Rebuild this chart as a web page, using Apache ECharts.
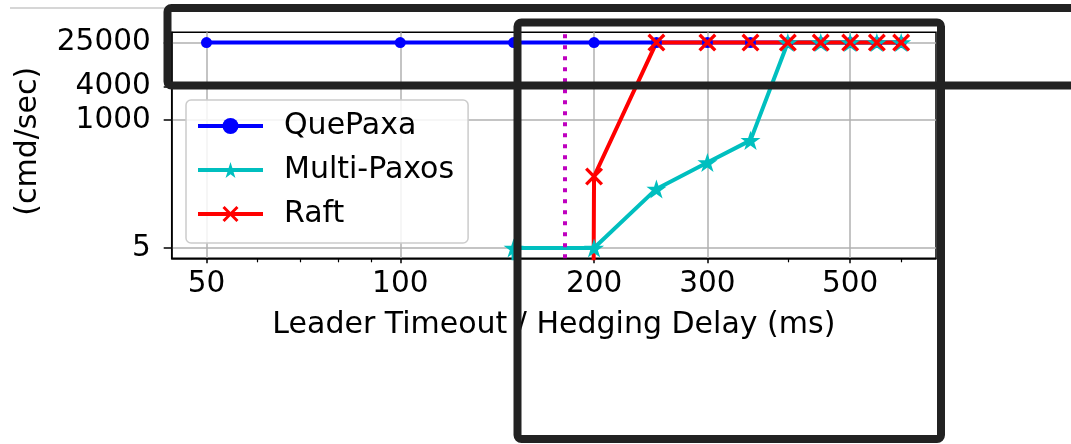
<!DOCTYPE html>
<html>
<head>
<meta charset="utf-8">
<script src="https://cdn.jsdelivr.net/npm/echarts@6/dist/echarts.min.js"></script>
<style>
body { margin: 0; background: #fff; }
#myChart { width: 1071px; height: 444px; }
</style>
</head>
<body>
<div id="myChart"></div>
<script>
// leader timeout / hedging delay (ms)
var delays = [50, 100, 150, 200, 250, 300, 350, 400, 450, 500, 550, 600];
// throughput (cmd/sec), 0 = nothing committed
var quePaxa = [25000, 25000, 25000, 25000, 25000, 25000, 25000, 25000, 25000, 25000, 25000, 25000];
var multiPaxos = [0, 0, 5, 5, 58, 174, 434, 25000, 25000, 25000, 25000, 25000];
var raft = [0, 0, 0, 97, 25000, 25000, 25000, 25000, 25000, 25000, 25000, 25000];

var xTicks = [50, 100, 200, 300, 500];
var xMinorTicks = [60, 70, 80, 90, 400, 600];
var yTicks = [5, 1000, 4000, 25000];
var hedgeDelay = 180;

var FONT = 'DejaVu Sans';

// matplotlib puts 0 far below a log axis, the line drops out of the plot
function toPoints(values) {
  return delays.map(function (d, i) {
    return [d, values[i] > 0 ? values[i] : 1e-300];
  });
}

var starPath = 'path://M50,0 L61.23,34.55 L97.55,34.55 L68.17,55.9 L79.39,90.45 L50,69.1 L20.61,90.45 L31.83,55.9 L2.45,34.55 L38.77,34.55 Z';
var crossPath = 'path://M0,1.3 L1.3,0 L5,3.7 L8.7,0 L10,1.3 L6.3,5 L10,8.7 L8.7,10 L5,6.3 L1.3,10 L0,8.7 L3.7,5 Z';

var chart = echarts.init(document.getElementById('myChart'));

chart.setOption({
  animation: false,
  backgroundColor: '#fff',
  textStyle: { fontFamily: FONT },
  grid: {
    left: 171.7,
    right: 135,
    top: 32.3,
    bottom: 185.7,
    show: true,
    borderColor: '#000',
    borderWidth: 1.5,
    outerBoundsMode: 'none'
  },
  legend: {
    orient: 'vertical',
    left: 186,
    top: 100,
    padding: [11, 14, 14, 10],
    itemGap: 14,
    itemWidth: 65,
    itemHeight: 20,
    backgroundColor: 'rgba(255,255,255,0.85)',
    borderColor: '#cccccc',
    borderWidth: 1.5,
    borderRadius: 5,
    lineStyle: { width: 4 },
    textStyle: { fontSize: 30, color: '#000', fontFamily: FONT, padding: [0, 0, 0, 16] },
    data: ['QuePaxa', 'Multi-Paxos', 'Raft']
  },
  xAxis: [{
    type: 'log',
    logBase: 10,
    min: 44.15,
    max: 679.6,
    name: 'Leader Timeout / Hedging Delay (ms)',
    nameLocation: 'middle',
    nameGap: 52,
    nameTextStyle: { fontSize: 30, color: '#000', fontFamily: FONT },
    axisLine: { lineStyle: { color: '#000', width: 1.5 } },
    axisTick: { customValues: xTicks, length: 5, lineStyle: { color: '#000', width: 1.5 } },
    axisLabel: {
      customValues: xTicks,
      fontSize: 29.5,
      color: '#000',
      margin: 11,
      formatter: function (v) { return String(Math.round(v)); }
    },
    minorTick: { show: false },
    splitLine: { show: true, lineStyle: { color: '#b0b0b0', width: 1.5 } }
  }, {
    // only for the minor tick marks
    type: 'log',
    logBase: 10,
    min: 44.15,
    max: 679.6,
    position: 'bottom',
    axisLine: { show: false },
    axisTick: { customValues: xMinorTicks, length: 4, lineStyle: { color: '#000', width: 1.2 } },
    axisLabel: { show: false },
    splitLine: { show: false }
  }],
  yAxis: {
    type: 'log',
    logBase: 10,
    min: 3.27,
    max: 38270,
    name: '(cmd/sec)',
    nameLocation: 'middle',
    nameRotate: 90,
    nameGap: 128,
    nameTextStyle: { fontSize: 30, color: '#000', fontFamily: FONT, padding: [0, 0, 0, 8] },
    axisLine: { show: true, lineStyle: { color: '#000', width: 1.5 } },
    axisTick: { show: true, customValues: yTicks, length: 8, lineStyle: { color: '#000', width: 1.5 } },
    axisLabel: {
      customValues: yTicks,
      fontSize: 29.5,
      color: '#000',
      margin: 21,
      formatter: function (v) { return String(Math.round(v)); }
    },
    splitLine: { show: true, lineStyle: { color: '#b0b0b0', width: 1.5 } }
  },
  series: [{
    name: 'QuePaxa',
    type: 'line',
    xAxisIndex: 0,
    data: toPoints(quePaxa),
    symbol: 'circle',
    symbolSize: 11,
    color: '#0000ff',
    lineStyle: { width: 4 }
  }, {
    name: 'Multi-Paxos',
    type: 'line',
    xAxisIndex: 0,
    data: toPoints(multiPaxos),
    symbol: starPath,
    symbolKeepAspect: true,
    symbolSize: 20,
    color: '#00bfbf',
    lineStyle: { width: 4 }
  }, {
    name: 'Raft',
    type: 'line',
    xAxisIndex: 0,
    data: toPoints(raft),
    symbol: crossPath,
    symbolSize: 18,
    color: '#ff0000',
    lineStyle: { width: 4 },
    markLine: {
      silent: true,
      symbol: ['none', 'none'],
      label: { show: false },
      lineStyle: { color: '#bf00bf', type: [4, 7], width: 4 },
      data: [{ xAxis: hedgeDelay }]
    }
  }],
  // the black highlight boxes drawn over the figure
  graphic: [{
    type: 'line',
    z: 90,
    shape: { x1: 10, y1: 8, x2: 170, y2: 8 },
    style: { stroke: '#c8c8c8', lineWidth: 1.5 }
  }, {
    type: 'rect',
    z: 100,
    shape: { x: 167.5, y: 8, width: 920, height: 77.5, r: 4 },
    style: { fill: 'transparent', stroke: '#222', lineWidth: 8 }
  }, {
    type: 'rect',
    z: 100,
    shape: { x: 517.5, y: 22.5, width: 423.5, height: 416.5, r: 4 },
    style: { fill: 'transparent', stroke: '#222', lineWidth: 8 }
  }]
});
</script>
</body>
</html>
